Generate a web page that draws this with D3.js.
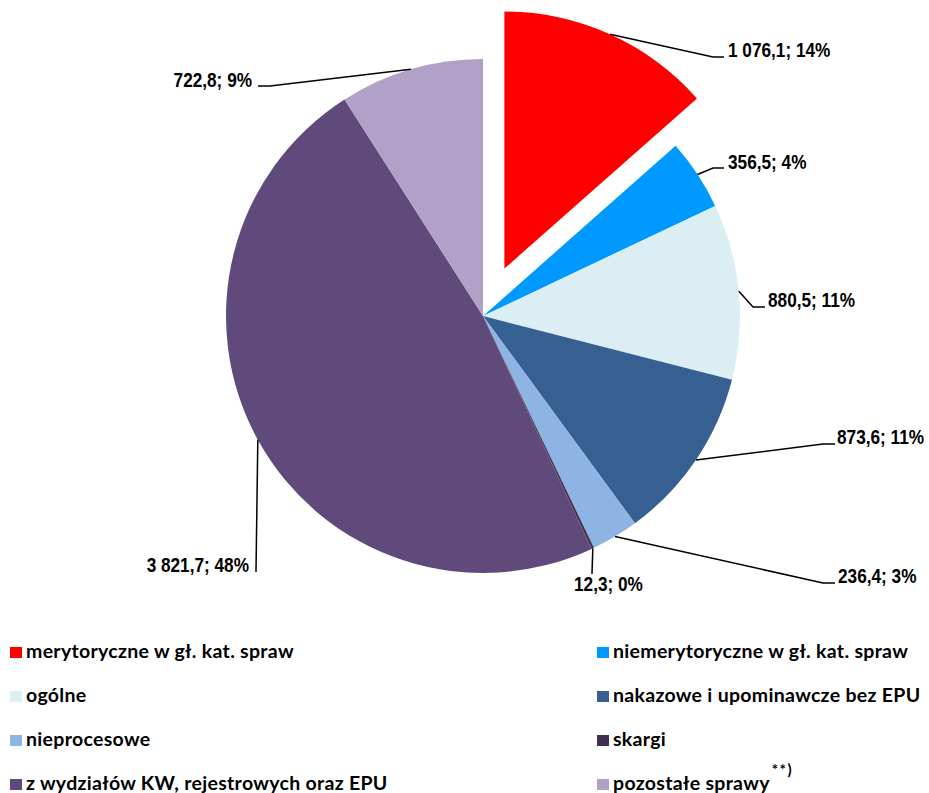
<!DOCTYPE html>
<html>
<head>
    <meta charset="utf-8">
    <style>
        body { margin: 0; background: #fff; }
        .lbl text {
            font-family: "Liberation Sans", Arial, sans-serif;
            font-weight: bold;
            font-size: 21px;
            fill: #000;
        }
        .lbl path { fill: none; stroke: #000; stroke-width: 1.5px; }
        .legend text {
            font-family: Lato, "Open Sans", sans-serif;
            font-weight: bold;
            font-size: 19.5px;
            letter-spacing: 0.3px;
            fill: #000;
        }
    </style>
    <script src="https://cdn.jsdelivr.net/npm/d3@7"></script>
</head>
<body>
<svg width="929" height="793"></svg>
<script>
    // data
    const categories = [
        "merytoryczne w gł. kat. spraw",
        "niemerytoryczne w gł. kat. spraw",
        "ogólne",
        "nakazowe i upominawcze bez EPU",
        "nieprocesowe",
        "skargi",
        "z wydziałów KW, rejestrowych oraz EPU",
        "pozostałe sprawy"
    ];
    const values = [1076.1, 356.5, 880.5, 873.6, 236.4, 12.3, 3821.7, 722.8];
    const shares = [14, 4, 11, 11, 3, 0, 48, 9];
    const colors = ["#ff0000", "#0099ff", "#daeef3", "#366092", "#8eb4e3", "#403152", "#604a7b", "#b2a1c7"];

    // layout: elbow and end of each leader line, where the text sits
    const leaderLayout = [
        { elbow: [713, 57],  end: [724, 57],  text: [728, 57],  anchor: "start" },
        { elbow: [713, 168], end: [724, 168], text: [728, 169], anchor: "start" },
        { elbow: [753, 307], end: [765, 307], text: [768, 307], anchor: "start" },
        { elbow: [823, 444], end: [835, 444], text: [837, 444], anchor: "start" },
        { elbow: [823, 583], end: [835, 583], text: [838, 583], anchor: "start" },
        { elbow: [592, 574], end: [592, 574], text: [574, 591], anchor: "start" },
        { elbow: [256, 572], end: [256, 572], text: [249, 572], anchor: "end" },
        { elbow: [270, 86],  end: [258, 86],  text: [252, 87],  anchor: "end" }
    ];

    let svg = d3.select("svg"),
        cx = 483,
        cy = 316,
        radius = 257,
        explode = 52,
        narrow = 0.82;   // squeeze Liberation Sans to look like Arial Narrow

    let pie = d3.pie().sort(null).value(function(d) { return d; });
    let arcs = pie(values);

    let arc = d3.arc().innerRadius(0).outerRadius(radius);

    let fmt = d3.formatLocale({ decimal: ",", thousands: " ", grouping: [3], currency: ["", ""] }).format(",.1f");

    function offset(d, i) {
        if (i !== 0) return [0, 0];
        let a = (d.startAngle + d.endAngle) / 2;
        return [explode * Math.sin(a), -explode * Math.cos(a)];
    }

    let g = svg.append("g")
        .attr("transform", "translate(" + cx + "," + cy + ")");

    g.selectAll(".slice")
        .data(arcs)
        .enter()
        .append("path")
        .attr("class", "slice")
        .attr("transform", function(d, i) { return "translate(" + offset(d, i) + ")"; })
        .attr("d", arc)
        .attr("fill", function(d, i) { return colors[i]; });

    // leader lines + labels
    let lbl = svg.append("g").attr("class", "lbl");

    arcs.forEach(function(d, i) {
        let a = (d.startAngle + d.endAngle) / 2,
            o = offset(d, i),
            sx = cx + o[0] + radius * Math.sin(a),
            sy = cy + o[1] - radius * Math.cos(a),
            L = leaderLayout[i];

        let p = d3.path();
        p.moveTo(sx, sy);
        p.lineTo(L.elbow[0], L.elbow[1]);
        p.lineTo(L.end[0], L.end[1]);
        lbl.append("path").attr("d", p.toString());

        lbl.append("text")
            .attr("transform", "translate(" + L.text[0] + "," + L.text[1] + ") scale(" + narrow + ",1)")
            .attr("text-anchor", L.anchor)
            .text(fmt(values[i]) + "; " + shares[i] + "%");
    });

    // legend, two columns
    let legend = svg.append("g").attr("class", "legend");
    let colX = [10, 597],
        rowY = d3.scalePoint().domain([0, 1, 2, 3]).range([652, 784]);

    categories.forEach(function(c, i) {
        let x = colX[i % 2],
            y = rowY(Math.floor(i / 2));
        legend.append("rect")
            .attr("x", x).attr("y", y - 5)
            .attr("width", 12).attr("height", 11)
            .attr("fill", colors[i]);
        let t = legend.append("text")
            .attr("x", x + 16)
            .attr("y", y + 6)
            .text(c);
        if (i === 7) {
            t.append("tspan")
                .attr("dx", 2)
                .attr("dy", -15)
                .style("font-size", "15px")
                .style("letter-spacing", "1.5px")
                .text("**)");
        }
    });
</script>
</body>
</html>
